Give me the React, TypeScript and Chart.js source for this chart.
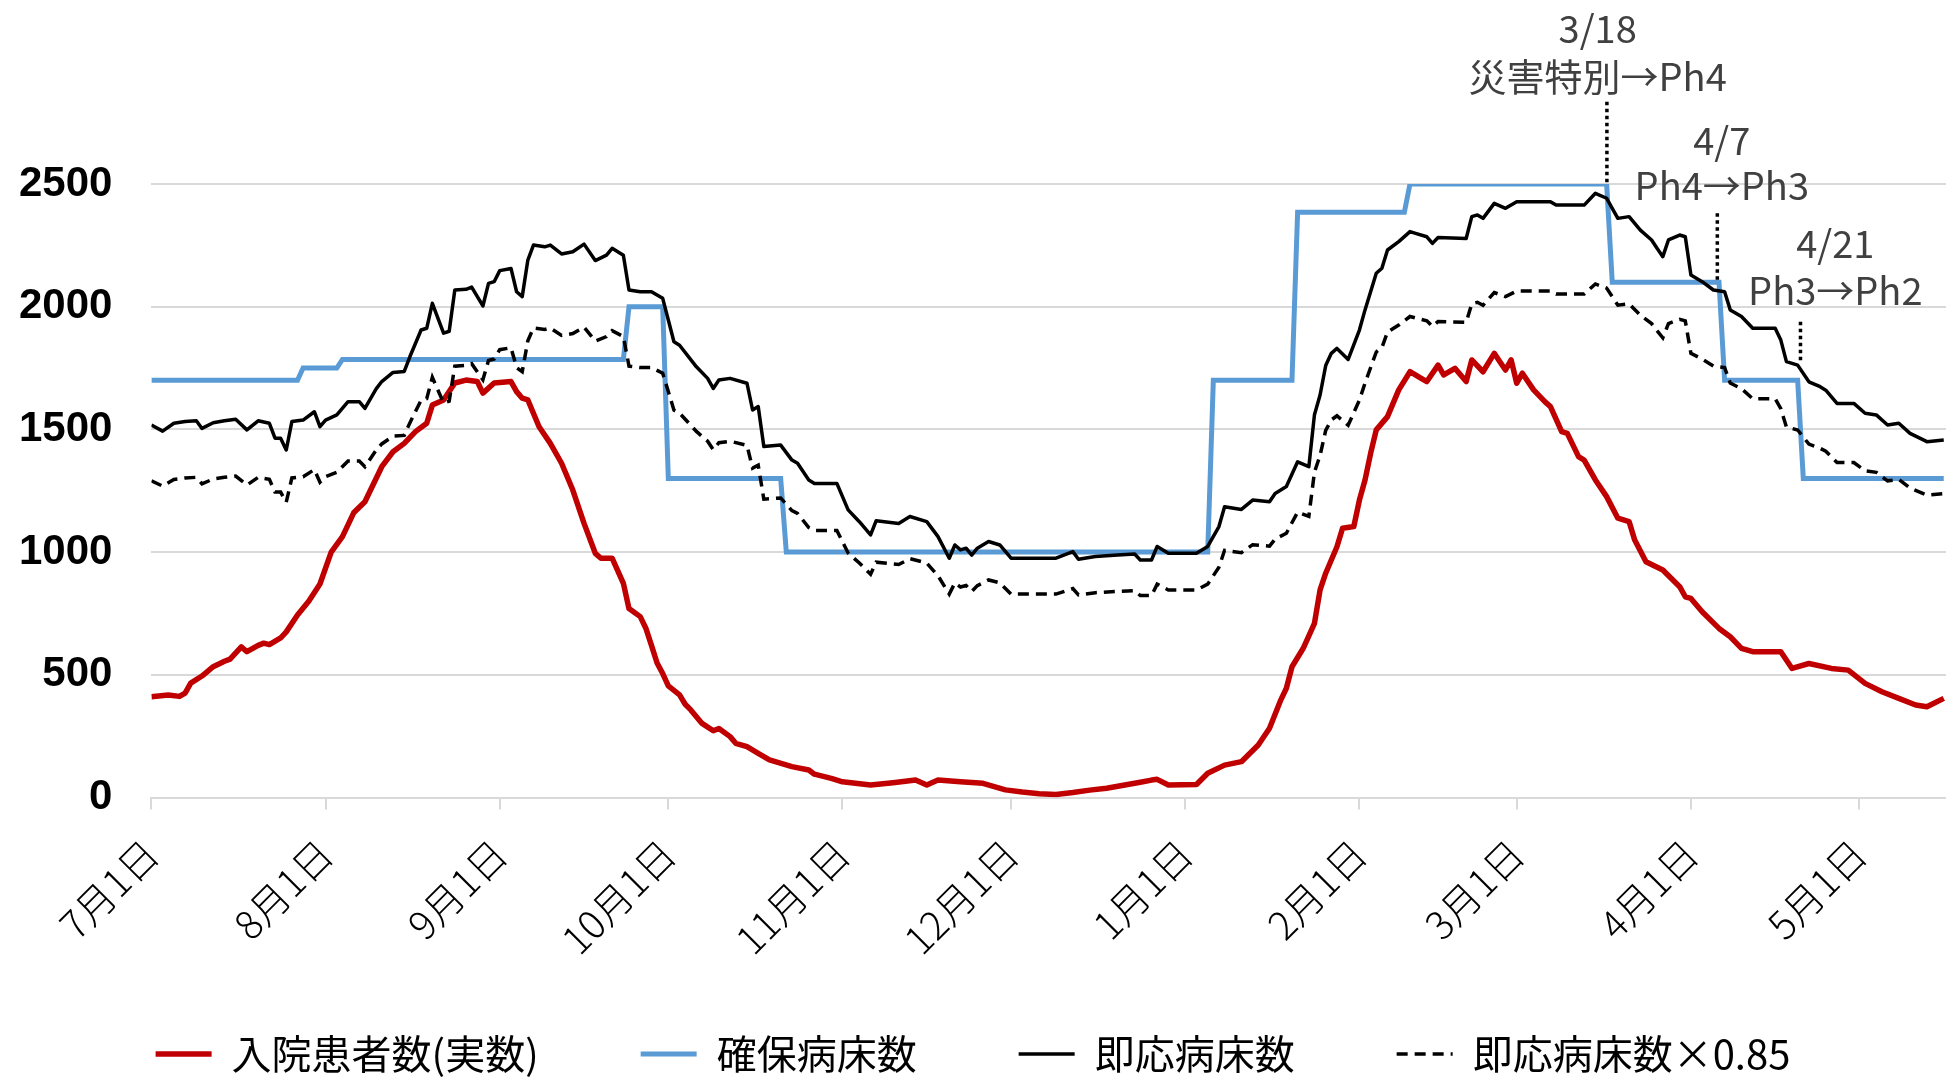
import React, { useEffect, useRef } from 'react';
import { Chart, registerables } from 'chart.js';

Chart.register(...registerables);

// x = days since 7/1, y = beds / patients
const monthTickDays = [0, 31, 62, 92, 123, 153, 184, 215, 243, 274, 304];
const monthTickLabels = ['7月1日', '8月1日', '9月1日', '10月1日', '11月1日', '12月1日', '1月1日', '2月1日', '3月1日', '4月1日', '5月1日'];
const yTickValues = [0, 500, 1000, 1500, 2000, 2500];

const seriesNames = ['入院患者数(実数)', '確保病床数', '即応病床数', '即応病床数×0.85'];

const inpatients: [number, number][] = [
  [0, 411], [3, 418], [5, 412], [6, 425], [7, 466], [9, 495], [11, 533], [13, 555], [14, 564], [16, 614],
  [17, 594], [19, 620], [20, 629], [21, 623], [23, 650], [24, 675], [26, 744], [28, 800], [30, 870], [32, 1000],
  [34, 1063], [36, 1160], [38, 1205], [41, 1348], [43, 1409], [45, 1443], [47, 1491], [49, 1525], [50, 1599], [52, 1620],
  [54, 1689], [56, 1701], [58, 1695], [59, 1648], [61, 1689], [64, 1695], [65, 1654], [66, 1627], [67, 1620], [69, 1511],
  [71, 1443], [73, 1362], [75, 1253], [77, 1117], [79, 995], [80, 975], [82, 975], [84, 873], [85, 770], [87, 737],
  [88, 690], [89, 620], [90, 548], [91, 505], [92, 455], [94, 418], [95, 380], [96, 357], [98, 302], [100, 272],
  [101, 281], [103, 248], [104, 221], [106, 207], [108, 180], [110, 153], [114, 126], [117, 112], [118, 95], [121, 78],
  [123, 64], [128, 51], [132, 60], [136, 71], [138, 51], [140, 71], [144, 64], [148, 58], [152, 31], [155, 22],
  [158, 15], [161, 12], [164, 20], [167, 30], [170, 38], [173, 50], [176, 62], [178, 71], [179, 74], [181, 51],
  [186, 53], [188, 99], [191, 132], [194, 146], [197, 214], [199, 282], [201, 397], [202, 445], [203, 533], [205, 608],
  [207, 710], [208, 846], [209, 914], [211, 1022], [212, 1097], [214, 1104], [215, 1212], [216, 1294], [217, 1403], [218, 1498],
  [220, 1552], [222, 1661], [224, 1735], [226, 1708], [227, 1695], [229, 1762], [230, 1722], [232, 1749], [234, 1695], [235, 1783],
  [237, 1735], [239, 1810], [240, 1776], [241, 1742], [242, 1783], [243, 1688], [244, 1729], [246, 1661], [248, 1613], [249, 1593],
  [251, 1491], [252, 1484], [254, 1389], [255, 1375], [257, 1294], [259, 1226], [261, 1138], [263, 1124], [264, 1049], [266, 961],
  [269, 927], [272, 859], [273, 818], [274, 811], [276, 757], [279, 689], [281, 655], [283, 608], [285, 594], [290, 594],
  [292, 526], [295, 546], [299, 526], [302, 519], [305, 465], [308, 431], [311, 404], [314, 377], [316, 370], [319, 404],
];

const securedBeds: [number, number][] = [
  [0, 1700], [26, 1700], [27, 1750], [33, 1750], [34, 1785], [84, 1785], [85, 2000], [91, 2000],
  [92, 1300], [112, 1300], [113, 1000], [188, 1000], [189, 1700], [203, 1700], [204, 2385], [223, 2385],
  [224, 2500], [259, 2500], [260, 2100], [279, 2100], [280, 1700], [293, 1700], [294, 1300], [319, 1300],
];

const readyBeds: [number, number][] = [
  [0, 1518], [2, 1493], [4, 1525], [6, 1532], [8, 1535], [9, 1504], [11, 1527], [13, 1535], [15, 1541], [17, 1498],
  [19, 1535], [21, 1525], [22, 1464], [23, 1464], [24, 1416], [25, 1532], [27, 1538], [29, 1572], [30, 1511], [31, 1538],
  [33, 1559], [35, 1613], [37, 1613], [38, 1586], [40, 1665], [41, 1695], [43, 1732], [45, 1736], [46, 1796], [48, 1905],
  [49, 1912], [50, 2014], [52, 1892], [53, 1900], [54, 2068], [56, 2071], [57, 2080], [59, 2003], [60, 2095], [61, 2102],
  [62, 2147], [64, 2156], [65, 2061], [66, 2041], [67, 2190], [68, 2251], [70, 2244], [71, 2251], [73, 2215], [75, 2224],
  [77, 2255], [79, 2188], [81, 2210], [82, 2238], [84, 2210], [85, 2068], [87, 2061], [89, 2061], [91, 2034], [92, 1946],
  [93, 1857], [94, 1843], [97, 1755], [99, 1708], [100, 1667], [101, 1701], [103, 1708], [106, 1688], [107, 1579], [108, 1593],
  [109, 1430], [112, 1436], [114, 1375], [115, 1362], [117, 1294], [118, 1280], [122, 1280], [124, 1172], [126, 1124], [128, 1070],
  [129, 1128], [133, 1117], [135, 1145], [138, 1124], [140, 1063], [142, 975], [143, 1029], [144, 1009], [145, 1016], [146, 988],
  [147, 1016], [149, 1043], [151, 1029], [153, 975], [159, 975], [161, 975], [164, 1002], [165, 971], [168, 982], [172, 988],
  [175, 992], [176, 968], [178, 968], [179, 1023], [181, 995], [186, 995], [188, 1023], [190, 1104], [191, 1185], [194, 1174],
  [196, 1212], [199, 1205], [200, 1239], [202, 1267], [204, 1368], [206, 1348], [207, 1560], [208, 1640], [209, 1760], [210, 1810],
  [211, 1830], [213, 1785], [215, 1905], [216, 1987], [218, 2136], [219, 2157], [220, 2231], [222, 2265], [224, 2306], [225, 2299],
  [227, 2285], [228, 2258], [229, 2282], [234, 2278], [235, 2367], [236, 2374], [237, 2360], [239, 2421], [241, 2401], [243, 2428],
  [249, 2428], [250, 2414], [255, 2414], [257, 2462], [259, 2442], [260, 2401], [261, 2360], [263, 2367], [265, 2312], [267, 2272],
  [268, 2237], [269, 2204], [270, 2272], [272, 2292], [273, 2285], [274, 2129], [276, 2102], [278, 2068], [280, 2061], [281, 1987],
  [283, 1960], [285, 1912], [289, 1912], [290, 1864], [291, 1776], [293, 1762], [295, 1694], [297, 1674], [298, 1660], [300, 1606],
  [303, 1606], [305, 1566], [307, 1559], [309, 1518], [311, 1525], [313, 1484], [316, 1450], [319, 1457],
];

// the fourth series is defined by the chart itself as 即応病床数 × 0.85
const readyBedsRatio = 0.85;

// phase-change notes: x in days since 7/1, y in bed units
const phaseNoteDates = ['3/18', '4/7', '4/21'];
const phaseNoteTexts = ['災害特別→Ph4', 'Ph4→Ph3', 'Ph3→Ph2'];
const phaseLineDays = [259.05, 278.7, 293.5];
const phaseLineTops = [2835, 2381, 1939];
const phaseLineBottoms = [2500, 2109, 1769];
const phaseLabelDays = [257.4, 279.5, 299.7];
const phaseDateValues = [3132, 2679, 2256];
const phaseTextValues = [2937, 2492, 2064];

const toXY = (pts: [number, number][]) => pts.map(([x, y]) => ({ x, y }));

const phasePlugin = {
  id: 'phaseNotes',
  afterDraw(chart: any) {
    const { ctx } = chart;
    const xs = chart.scales.x;
    const ys = chart.scales.y;
    ctx.save();
    ctx.strokeStyle = '#000000';
    ctx.lineWidth = 3.5;
    ctx.setLineDash([3.5, 3.5]);
    phaseLineDays.forEach((d, i) => {
      const px = xs.getPixelForValue(d);
      ctx.beginPath();
      ctx.moveTo(px, ys.getPixelForValue(phaseLineTops[i]));
      ctx.lineTo(px, ys.getPixelForValue(phaseLineBottoms[i]));
      ctx.stroke();
    });
    ctx.setLineDash([]);
    ctx.fillStyle = '#404040';
    ctx.font = '38px "Noto Sans CJK JP"';
    ctx.textAlign = 'center';
    ctx.textBaseline = 'middle';
    phaseLabelDays.forEach((d, i) => {
      const cx = xs.getPixelForValue(d);
      ctx.fillText(phaseNoteDates[i], cx, ys.getPixelForValue(phaseDateValues[i]));
      ctx.fillText(phaseNoteTexts[i], cx, ys.getPixelForValue(phaseTextValues[i]));
    });
    ctx.restore();
  },
};

// let the rotated month labels use the room down to the legend row
const labelRoomPlugin = {
  id: 'labelRoom',
  afterLayout(chart: any) {
    const xs = chart.scales.x;
    if (xs) xs.bottom = chart.height;
  },
};

export default function App() {
  const canvasRef = useRef<HTMLCanvasElement | null>(null);

  useEffect(() => {
    document.body.style.margin = '0';
    document.body.style.overflow = 'hidden';
    const canvas = canvasRef.current;
    if (!canvas) return;

    const chart = new Chart(canvas, {
      type: 'line',
      data: {
        datasets: [
          {
            label: seriesNames[0],
            data: toXY(inpatients),
            borderColor: '#c00000',
            backgroundColor: '#c00000',
            borderWidth: 5.5,
            pointRadius: 0,
            pointStyle: 'line',
            borderJoinStyle: 'round',
            order: 4,
          },
          {
            label: seriesNames[1],
            data: toXY(securedBeds),
            borderColor: '#5b9bd5',
            backgroundColor: '#5b9bd5',
            borderWidth: 5,
            pointRadius: 0,
            pointStyle: 'line',
            order: 3,
          },
          {
            label: seriesNames[2],
            data: toXY(readyBeds),
            borderColor: '#000000',
            backgroundColor: '#000000',
            borderWidth: 3.5,
            pointRadius: 0,
            pointStyle: 'line',
            borderJoinStyle: 'round',
            order: 2,
          },
          {
            label: seriesNames[3],
            data: readyBeds.map(([x, y]) => ({ x, y: y * readyBedsRatio })),
            borderColor: '#000000',
            backgroundColor: '#000000',
            borderWidth: 3.5,
            borderDash: [11, 7],
            pointRadius: 0,
            pointStyle: 'line',
            order: 1,
          },
        ],
      },
      options: {
        responsive: false,
        animation: false,
        devicePixelRatio: 1,
        events: [],
        layout: { padding: { top: 184, bottom: -6, left: 0, right: 0 } },
        scales: {
          x: {
            type: 'linear',
            min: 0,
            max: 319.4,
            afterBuildTicks: (axis: any) => {
              axis.ticks = monthTickDays.map((v) => ({ value: v }));
            },
            afterFit: (scale: any) => {
              scale.height = 134.5;
            },
            ticks: {
              autoSkip: false,
              minRotation: 45,
              maxRotation: 45,
              padding: 21,
              color: '#000000',
              font: { family: '"Noto Sans CJK JP"', size: 39, weight: 300 },
              callback: (value: any) => {
                const i = monthTickDays.indexOf(Number(value));
                return i >= 0 ? monthTickLabels[i] : '';
              },
            },
            grid: {
              drawOnChartArea: false,
              drawTicks: true,
              tickLength: 12,
              color: '#d9d9d9',
              lineWidth: 2,
            },
            border: { display: true, color: '#d9d9d9', width: 2 },
          },
          y: {
            min: 0,
            max: 2500,
            afterBuildTicks: (axis: any) => {
              axis.ticks = yTickValues.map((v) => ({ value: v }));
            },
            afterFit: (scale: any) => {
              scale.width = 151.4;
            },
            ticks: {
              padding: 39,
              color: '#000000',
              font: { family: '"Liberation Sans"', size: 42, weight: 'bold' },
              callback: (value: any) => String(value),
            },
            grid: { color: '#d9d9d9', lineWidth: 2, drawTicks: false },
            border: { display: false },
          },
        },
        plugins: {
          legend: {
            position: 'bottom',
            labels: {
              usePointStyle: true,
              pointStyleWidth: 56,
              padding: 102,
              color: '#000000',
              font: { family: '"Noto Sans CJK JP"', size: 40 },
              generateLabels: (chart: any) => {
                const items = Chart.defaults.plugins.legend.labels.generateLabels(chart);
                return items
                  .map((item: any) => {
                    const ds = chart.data.datasets[item.datasetIndex];
                    return {
                      ...item,
                      lineWidth: ds.borderWidth,
                      lineDash: ds.borderDash || [],
                      strokeStyle: ds.borderColor,
                      pointStyle: 'line',
                    };
                  })
                  .sort((a: any, b: any) => a.datasetIndex - b.datasetIndex);
              },
            },
          },
          tooltip: { enabled: false },
        },
      },
      plugins: [phasePlugin, labelRoomPlugin],
    } as any);

    return () => {
      chart.destroy();
    };
  }, []);

  return (
    <div style={{ width: 1946, height: 1078, background: '#ffffff' }}>
      <canvas ref={canvasRef} width={1946} height={1078} style={{ display: 'block', width: 1946, height: 1078 }} />
    </div>
  );
}
